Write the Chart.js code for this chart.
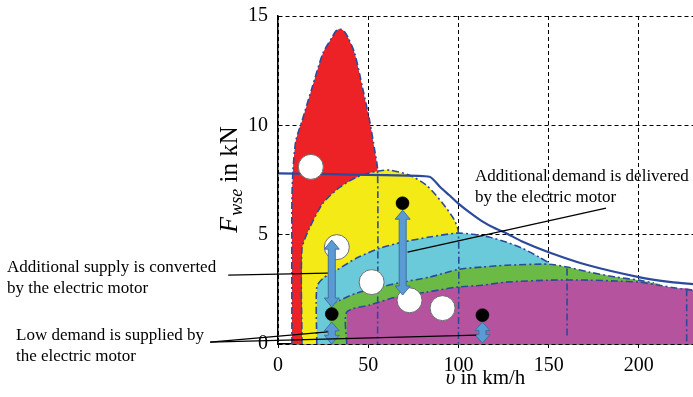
<!DOCTYPE html>
<html><head><meta charset="utf-8">
<script src="https://cdn.jsdelivr.net/npm/chart.js@4.4.1/dist/chart.umd.min.js"></script>
<style>html,body{margin:0;padding:0;background:#fff;overflow:hidden}</style>
</head><body>
<canvas id="c" width="693" height="397"></canvas>
<script>
// ---- axis ticks ----
const xTickValues = [0, 50, 100, 150, 200];
const yTickValues = [0, 5, 10, 15];

// ---- operating regions (v in km/h, F in kN) ----
const redV = [7.7, 7.7, 8.3, 9.9, 13.3, 18.8, 24.9, 29.8, 31.5, 33.2, 35.4, 37.2, 38.9, 42.5, 46.9, 50.8, 53.6, 55.2, 55.2];
const redF = [0, 6.5, 7.95, 9.3, 10.2, 11.7, 13.3, 14.0, 14.25, 14.38, 14.38, 14.25, 14.0, 13.3, 11.7, 10.2, 8.86, 7.95, 0];

const yellowV = [13.3, 13.3, 17.7, 24.9, 34.3, 43.6, 54.7, 61.9, 72.9, 82.3, 91.2, 97.8, 100, 100];
const yellowF = [0, 4.35, 5.34, 6.44, 7.17, 7.63, 7.9, 7.95, 7.72, 7.26, 6.44, 5.66, 5.1, 0];

const cyanV = [21.5, 21.5, 24.9, 32.6, 43.6, 56.4, 69.1, 84, 98.9, 107.7, 117, 126.5, 135.4, 144.8, 150.3, 150.3];
const cyanF = [0, 2.6, 3.0, 3.38, 3.93, 4.38, 4.66, 4.89, 5.07, 5.02, 4.89, 4.66, 4.38, 3.97, 3.7, 0];

const greenV = [28.7, 28.7, 34.3, 43.6, 56.4, 69.1, 84, 100.6, 113.3, 126.5, 150.3, 160.2, 172.4, 187.3, 200, 208.3, 212, 212];
const greenF = [0, 1.78, 2.0, 2.33, 2.6, 2.83, 3.06, 3.42, 3.52, 3.6, 3.65, 3.52, 3.29, 3.06, 2.92, 2.79, 2.7, 0];

const purpleV = [38.1, 38.1, 50.8, 65.7, 82.3, 98.9, 113.3, 126.5, 150.3, 172.4, 187.3, 200, 211, 220.4, 230, 230];
const purpleF = [0, 1.46, 1.78, 2.15, 2.37, 2.6, 2.69, 2.83, 2.92, 2.92, 2.88, 2.83, 2.69, 2.56, 2.45, 0];

// extra dash-dot boundaries
const edge1V = [160.2, 160.2];
const edge1F = [3.45, 0.35];
const edge2V = [226.5, 226.5];
const edge2F = [2.5, 0.1];

// ---- full-load traction curve ----
const maxV = [0.5, 20, 40, 60, 84, 90, 95, 100, 106, 113, 120, 126.5, 135, 150, 172, 200, 218, 230];
const maxF = [7.8, 7.78, 7.75, 7.72, 7.65, 7.17, 6.8, 6.42, 6.03, 5.62, 5.3, 5.07, 4.7, 4.2, 3.6, 3.06, 2.83, 2.74];

// ---- operating points ----
const openV = [18.2, 32.6, 51.9, 72.9, 91.2];
const openF = [8.1, 4.43, 2.83, 2.0, 1.64];
const dotV = [69, 29.8, 113.3];
const dotF = [6.44, 1.37, 1.32];

// ---- load point shift arrows ----
const arrowV = [29.8, 69.1, 29.8, 113.3];
const arrowTop = [4.75, 6.12, 1.0, 1.0];
const arrowBottom = [1.69, 2.24, 0.0, 0.05];

// ---- annotation leader lines (data coords) ----
const leaderFromV = [181.8, -27.6, -37.6, -37.6];
const leaderFromF = [6.21, 3.15, 0.09, 0.09];
const leaderToV = [71.8, 27.6, 27.6, 109.9];
const leaderToF = [4.2, 3.24, 0.55, 0.41];

const noteLines = [
  ["Additional demand is delivered", "by the electric motor"],
  ["Additional supply is converted", "by the electric motor"],
  ["Low demand is supplied by", "the electric motor"]
];
const notePos = [[475, 181], [7, 272], [16, 340]];

const BLUE = '#2c4a9c';
const DASHDOT = [7, 3, 2, 3];
const FONT = "'Liberation Serif', 'Times New Roman', serif";
Chart.defaults.font.family = FONT;
Chart.defaults.color = '#000';

const pts = (vs, fs) => vs.map((v, i) => ({x: v, y: fs[i]}));

function area(label, vs, fs, color, order) {
  return {label, data: pts(vs, fs), backgroundColor: color, borderColor: 'rgba(0,0,0,0)',
    borderWidth: 0, fill: 'origin', pointRadius: 0, tension: 0.25, order};
}
function outline(label, data, order, tension) {
  return {label, data, borderColor: BLUE, borderWidth: 1.6, borderDash: DASHDOT, fill: false,
    pointRadius: 0, tension: tension, order};
}

const datasets = [
  area('red', redV, redF, '#ec2227', 20),
  area('yellow', yellowV, yellowF, '#f3ea16', 19),
  area('cyan', cyanV, cyanF, '#6acad9', 18),
  area('green', greenV, greenF, '#6bba45', 17),
  area('purple', purpleV, purpleF, '#b5539f', 16),
  outline('redO', pts(redV, redF), 10, 0.25),
  outline('yellowO', pts(yellowV, yellowF), 10, 0.25),
  outline('cyanO', pts(cyanV, cyanF).slice(0, -1), 10, 0.25),
  outline('greenO', pts(greenV, greenF).slice(1, -2), 10, 0.25),
  outline('purpleO', pts(purpleV, purpleF).slice(0, -1), 10, 0.25),
  outline('edge1', pts(edge1V, edge1F), 10, 0),
  outline('edge2', pts(edge2V, edge2F), 10, 0),
  {label: 'max', data: pts(maxV, maxF), borderColor: BLUE, borderWidth: 2.2, fill: false,
    pointRadius: 0, tension: 0.2, order: 5},
  {label: 'open', data: pts(openV, openF), showLine: false, pointRadius: 12.5,
    pointBackgroundColor: '#ffffff', pointBorderColor: '#6d6d6d', pointBorderWidth: 1, order: 2},
  {label: 'dots', data: pts(dotV, dotF), showLine: false, pointRadius: 6.5,
    pointBackgroundColor: '#000000', pointBorderColor: '#000000', pointBorderWidth: 0.5, order: 1}
];

function doubleArrow(ctx, x, yt, yb) {
  const len = yb - yt;
  const hl = Math.min(9, len * 0.4);
  const hw = 7.5, sw = 3.5;
  ctx.beginPath();
  ctx.moveTo(x, yt);
  ctx.lineTo(x + hw, yt + hl);
  ctx.lineTo(x + sw, yt + hl);
  ctx.lineTo(x + sw, yb - hl);
  ctx.lineTo(x + hw, yb - hl);
  ctx.lineTo(x, yb);
  ctx.lineTo(x - hw, yb - hl);
  ctx.lineTo(x - sw, yb - hl);
  ctx.lineTo(x - sw, yt + hl);
  ctx.lineTo(x - hw, yt + hl);
  ctx.closePath();
  ctx.fillStyle = '#5b9bd5';
  ctx.fill();
  ctx.lineWidth = 1;
  ctx.strokeStyle = '#41719c';
  ctx.stroke();
}

const decor = {
  id: 'decor',
  beforeDatasetDraw(chart, args) {
    if (chart.data.datasets[args.index].label !== 'dots') return;
    const xs = chart.scales.x, ys = chart.scales.y, ctx = chart.ctx;
    ctx.save();
    arrowV.forEach((v, i) => doubleArrow(ctx, xs.getPixelForValue(v),
      ys.getPixelForValue(arrowTop[i]), ys.getPixelForValue(arrowBottom[i])));
    ctx.restore();
  },
  afterDraw(chart) {
    const xs = chart.scales.x, ys = chart.scales.y, ctx = chart.ctx;
    const ca = chart.chartArea;
    ctx.save();
    // leader lines
    ctx.strokeStyle = '#000';
    ctx.lineWidth = 1.3;
    leaderFromV.forEach((v, i) => {
      ctx.beginPath();
      ctx.moveTo(xs.getPixelForValue(v), ys.getPixelForValue(leaderFromF[i]));
      ctx.lineTo(xs.getPixelForValue(leaderToV[i]), ys.getPixelForValue(leaderToF[i]));
      ctx.stroke();
    });
    // notes
    ctx.fillStyle = '#000';
    ctx.font = '17px ' + FONT;
    ctx.textAlign = 'left';
    ctx.textBaseline = 'alphabetic';
    noteLines.forEach((ls, i) => {
      ls.forEach((t, j) => ctx.fillText(t, notePos[i][0], notePos[i][1] + j * 20.5));
    });
    // x title
    const xt1 = 'υ', xt2 = ' in km/h';
    ctx.font = 'italic 21px ' + FONT;
    const w1 = ctx.measureText(xt1).width;
    ctx.font = '21px ' + FONT;
    const w2 = ctx.measureText(xt2).width;
    let x0 = (ca.left + ca.right) / 2 - (w1 + w2) / 2;
    ctx.font = 'italic 21px ' + FONT;
    ctx.fillText(xt1, x0, 384);
    ctx.font = '21px ' + FONT;
    ctx.fillText(xt2, x0 + w1, 384);
    // y title
    ctx.translate(237, (ca.top + ca.bottom) / 2);
    ctx.rotate(-Math.PI / 2);
    ctx.font = 'italic 26px ' + FONT;
    const wf = ctx.measureText('F').width;
    ctx.font = 'italic 18px ' + FONT;
    const ws = ctx.measureText('wse').width;
    ctx.font = '25px ' + FONT;
    const wi = ctx.measureText(' in kN').width;
    const start = -(wf + ws + wi) / 2;
    ctx.font = 'italic 26px ' + FONT;
    ctx.fillText('F', start, 0);
    ctx.font = 'italic 18px ' + FONT;
    ctx.fillText('wse', start + wf + 1, 5);
    ctx.font = '25px ' + FONT;
    ctx.fillText(' in kN', start + wf + ws + 1, 0);
    ctx.restore();
  }
};

new Chart(document.getElementById('c'), {
  type: 'line',
  data: {datasets},
  plugins: [decor],
  options: {
    responsive: false,
    animation: false,
    devicePixelRatio: 1,
    layout: {autoPadding: false, padding: {top: 16, right: 0, bottom: 0, left: 0}},
    plugins: {legend: {display: false}, tooltip: {enabled: false}},
    scales: {
      x: {
        type: 'linear', min: 0, max: 230,
        afterFit: s => { s.height = 53; s.paddingLeft = 0; s.paddingRight = 0; },
        afterBuildTicks: s => { s.ticks = xTickValues.map(v => ({value: v})); },
        ticks: {font: {size: 20}, padding: 6, maxRotation: 0, color: '#000'},
        grid: {color: '#000', lineWidth: 1, drawTicks: true, tickLength: 4, tickColor: '#000'},
        border: {display: true, color: '#000', width: 1.5, dash: [4, 3]}
      },
      y: {
        type: 'linear', min: 0, max: 15,
        afterFit: s => { s.width = 278; s.paddingTop = 0; s.paddingBottom = 0; },
        afterBuildTicks: s => { s.ticks = yTickValues.map(v => ({value: v})); },
        ticks: {font: {size: 20}, padding: 10, color: '#000'},
        grid: {color: '#000', lineWidth: 1, drawTicks: false},
        border: {display: true, color: '#000', width: 1.5, dash: [4, 3]}
      }
    }
  }
});
</script>
</body></html>
